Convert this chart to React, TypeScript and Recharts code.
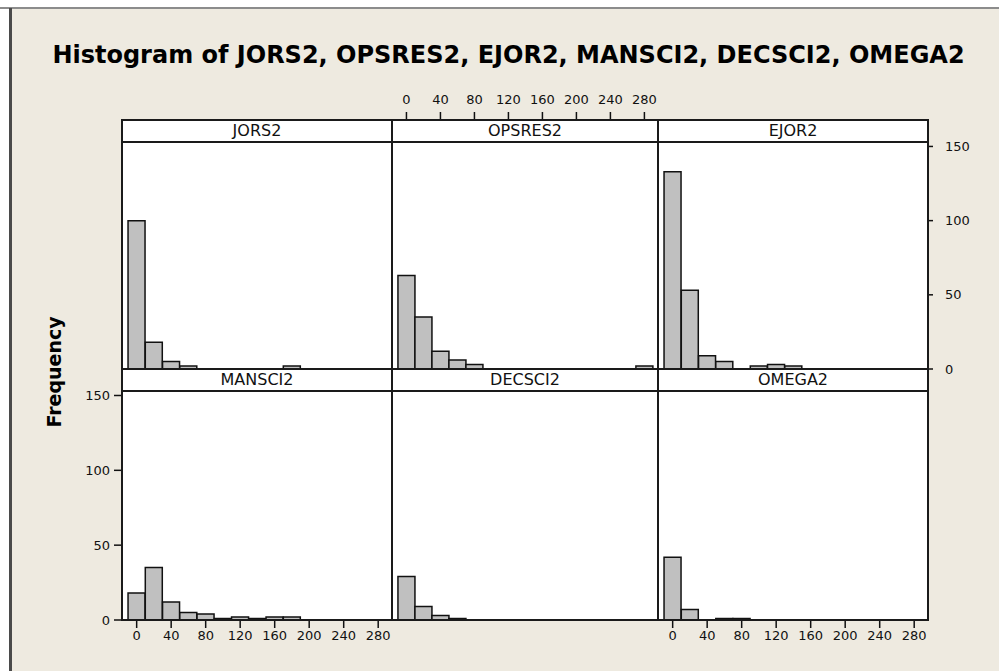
import React from "react";
import { BarChart, Bar, XAxis, YAxis } from "recharts";

// bin midpoints (width 20) shared by every panel
const BIN_MIDS = [0, 20, 40, 60, 80, 100, 120, 140, 160, 180, 200, 220, 240, 260, 280];
const X_TICKS = [0, 40, 80, 120, 160, 200, 240, 280];
const Y_TICKS = [0, 50, 100, 150];

const JORS2 = [100, 18, 5, 2, 0, 0, 0, 0, 0, 2, 0, 0, 0, 0, 0];
const OPSRES2 = [63, 35, 12, 6, 3, 0, 0, 0, 0, 0, 0, 0, 0, 0, 2];
const EJOR2 = [133, 53, 9, 5, 0, 2, 3, 2, 0, 0, 0, 0, 0, 0, 0];
const MANSCI2 = [18, 35, 12, 5, 4, 1, 2, 1, 2, 2, 0, 0, 0, 0, 0];
const DECSCI2 = [29, 9, 3, 1, 0, 0, 0, 0, 0, 0, 0, 0, 0, 0, 0];
const OMEGA2 = [42, 7, 0, 1, 1, 0, 0, 0, 0, 0, 0, 0, 0, 0, 0];

const TITLE = "Histogram of JORS2, OPSRES2, EJOR2, MANSCI2, DECSCI2, OMEGA2";

const COLS = [122, 392, 658, 928];
const ROWS = [
  { strip: 120, top: 142, bottom: 369 },
  { strip: 369, top: 391, bottom: 620 },
];

const X_DOMAIN = [-17, 296];
const Y_DOMAIN = [0, 153];
const FONT = "'DejaVu Sans', Verdana, sans-serif";
const tickStyle = { fontSize: 13, fill: "#111", fontFamily: FONT };

type PanelProps = {
  name: string;
  values: number[];
  col: number;
  row: number;
  showTop?: boolean;
  showRight?: boolean;
  showLeft?: boolean;
  showBottom?: boolean;
};

const Panel: React.FC<PanelProps> = ({ values, col, row, showTop, showRight, showLeft, showBottom }) => {
  const px = COLS[col];
  const pw = COLS[col + 1] - COLS[col];
  const py = ROWS[row].top;
  const ph = ROWS[row].bottom - ROWS[row].top;
  const hasY = showLeft || showRight;
  // room so the end labels of a y axis are not clipped
  const pad = hasY ? 12 : 0;
  const extL = showLeft ? 82 : 0;
  const extR = showRight ? 60 : 0;
  const extT = showTop ? 57 : pad;
  const extB = showBottom ? 40 : pad;
  const data = BIN_MIDS.map((x, i) => ({ x, v: values[i] }));

  return (
    <div style={{ position: "absolute", left: px - extL, top: py - extT }}>
      <BarChart
        width={pw + extL + extR}
        height={ph + extT + extB}
        data={data}
        margin={{ top: showTop ? 0 : pad, right: 0, bottom: showBottom ? 0 : pad, left: 0 }}
        barCategoryGap={0}
        barGap={0}
      >
        {showTop ? (
          <XAxis
            xAxisId="top"
            orientation="top"
            dataKey="x"
            type="number"
            domain={X_DOMAIN}
            allowDataOverflow
            ticks={X_TICKS}
            interval={0}
            height={extT}
            axisLine={false}
            tickSize={30}
            tickMargin={8}
            tickLine={{ stroke: "#111", strokeWidth: 1.5 }}
            tick={tickStyle}
          />
        ) : null}
        <XAxis
          dataKey="x"
          type="number"
          domain={X_DOMAIN}
          allowDataOverflow
          ticks={X_TICKS}
          interval={0}
          hide={!showBottom}
          height={showBottom ? extB : 30}
          axisLine={{ stroke: "#111", strokeWidth: 1.5 }}
          tickSize={8}
          tickMargin={3}
          tickLine={{ stroke: "#111", strokeWidth: 1.5 }}
          tick={tickStyle}
        />
        <YAxis
          type="number"
          domain={Y_DOMAIN}
          ticks={Y_TICKS}
          interval={0}
          hide={!hasY}
          orientation={showRight ? "right" : "left"}
          width={extL || extR || 60}
          axisLine={{ stroke: "#111", strokeWidth: 1.5 }}
          tickSize={showRight ? 5 : 8}
          tickMargin={showRight ? 12 : 4}
          tickLine={{ stroke: "#111", strokeWidth: 1.5 }}
          tick={tickStyle}
        />
        <Bar
          dataKey="v"
          fill="#C0C0C0"
          stroke="#111"
          strokeWidth={1.5}
          isAnimationActive={false}
        />
      </BarChart>
    </div>
  );
};

const PANELS: PanelProps[] = [
  { name: "JORS2", values: JORS2, col: 0, row: 0 },
  { name: "OPSRES2", values: OPSRES2, col: 1, row: 0, showTop: true },
  { name: "EJOR2", values: EJOR2, col: 2, row: 0, showRight: true },
  { name: "MANSCI2", values: MANSCI2, col: 0, row: 1, showLeft: true, showBottom: true },
  { name: "DECSCI2", values: DECSCI2, col: 1, row: 1 },
  { name: "OMEGA2", values: OMEGA2, col: 2, row: 1, showBottom: true },
];

const box = (x: number, y: number, w: number, h: number, bg: string): React.CSSProperties => ({
  position: "absolute",
  left: x - 1,
  top: y - 1,
  width: w + 2,
  height: h + 2,
  boxSizing: "border-box",
  border: "2px solid #1a1a1a",
  background: bg,
});

export default function App() {
  return (
    <div
      style={{
        position: "absolute",
        left: 0,
        top: 0,
        width: 999,
        height: 671,
        background: "#fff",
        overflow: "hidden",
        fontFamily: FONT,
      }}
    >
      <div style={{ position: "absolute", left: 0, top: 7, width: 999, height: 2, background: "#8c8c8c" }} />
      <div
        style={{ position: "absolute", left: 12, top: 9, width: 987, height: 662, background: "#EEEAE0" }}
      />
      <div style={{ position: "absolute", left: 9, top: 8, width: 3, height: 663, background: "#4a4a4a" }} />

      <div
        style={{
          position: "absolute",
          left: 9,
          top: 43,
          width: 999,
          textAlign: "center",
          fontSize: 24,
          lineHeight: "24px",
          fontWeight: "bold",
          color: "#000",
          whiteSpace: "nowrap",
        }}
      >
        {TITLE}
      </div>

      <div
        style={{
          position: "absolute",
          left: 54 - 100,
          top: 372 - 12,
          width: 200,
          height: 24,
          lineHeight: "24px",
          textAlign: "center",
          fontSize: 19,
          fontWeight: "bold",
          color: "#000",
          transform: "rotate(-90deg)",
        }}
      >
        Frequency
      </div>

      {/* white plot areas under the bars */}
      {PANELS.map((p) => (
        <div
          key={"bg" + p.name}
          style={{
            position: "absolute",
            left: COLS[p.col],
            top: ROWS[p.row].top,
            width: COLS[p.col + 1] - COLS[p.col],
            height: ROWS[p.row].bottom - ROWS[p.row].top,
            background: "#fff",
          }}
        />
      ))}

      {PANELS.map((p) => (
        <Panel key={p.name} {...p} />
      ))}

      {/* frames and strips on top */}
      {PANELS.map((p) => {
        const x = COLS[p.col];
        const w = COLS[p.col + 1] - COLS[p.col];
        const r = ROWS[p.row];
        return (
          <React.Fragment key={"fr" + p.name}>
            <div style={box(x, r.top, w, r.bottom - r.top, "transparent")} />
            <div style={box(x, r.strip, w, r.top - r.strip, "#fff")}>
              <div
                style={{
                  textAlign: "center",
                  fontSize: 16,
                  lineHeight: "19px",
                  color: "#111",
                }}
              >
                {p.name}
              </div>
            </div>
          </React.Fragment>
        );
      })}
    </div>
  );
}
